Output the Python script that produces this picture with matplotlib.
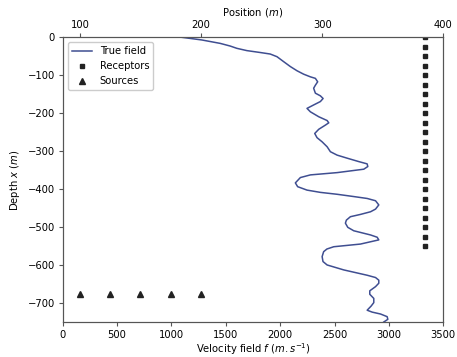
import matplotlib
matplotlib.use("Agg")
import matplotlib.pyplot as plt
import numpy as np

matplotlib.rc('font', size=7.2)
matplotlib.rc('xtick', labelsize=7.2)
matplotlib.rc('ytick', labelsize=7.2)

# true velocity profile
velocity = [1096, 1280, 1449, 1541, 1602, 1694, 1817, 1909, 1971, 2032, 2094, 2155,
            2216, 2278, 2324, 2345, 2324, 2308, 2324, 2370, 2395, 2370, 2308, 2247,
            2278, 2355, 2432, 2447, 2416, 2355, 2318, 2339, 2386, 2432, 2462, 2524,
            2616, 2723, 2800, 2806, 2769, 2524, 2278, 2186, 2140, 2161, 2247, 2370,
            2524, 2677, 2800, 2877, 2907, 2877, 2831, 2738, 2646, 2609, 2600, 2622,
            2677, 2831, 2892, 2907, 2738, 2493, 2430, 2400, 2386, 2394, 2432, 2585,
            2800, 2877, 2907, 2907, 2877, 2824, 2824, 2861, 2861, 2837, 2800, 2846,
            2923, 2984, 2990, 2953]
depth = [0, -7, -16, -23, -29, -35, -40, -44, -51, -64, -77, -88,
         -97, -104, -108, -117, -126, -134, -147, -154, -161, -169, -178, -187,
         -196, -209, -219, -225, -231, -242, -253, -264, -275, -288, -301, -310,
         -318, -327, -333, -340, -347, -356, -362, -369, -383, -393, -402, -408,
         -413, -419, -424, -430, -441, -452, -459, -466, -472, -481, -489, -500,
         -509, -520, -526, -533, -544, -551, -557, -564, -577, -590, -599, -612,
         -626, -632, -639, -647, -656, -667, -676, -687, -698, -707, -718, -723,
         -728, -735, -742, -749]

rec_pos = [385] * 23
rec_depth = [0, -25, -50, -75, -100, -125, -150, -175, -200, -225, -250, -275,
             -300, -325, -350, -375, -400, -425, -450, -475, -500, -525, -550]
src_pos = [100, 125, 150, 175, 200]
src_depth = [-675, -675, -675, -675, -675]

fig = plt.figure(figsize=(4.57, 3.57), dpi=100)
ax = fig.add_axes([0.137, 0.097, 0.833, 0.7985])
ax2 = ax.twiny()

l1, = ax.plot(velocity, depth, color="#3f4e91", lw=1.1, label="True field")
l2, = ax2.plot(rec_pos, rec_depth, 's', color="#222222", ms=2.8, label="Receptors")
l3, = ax2.plot(src_pos, src_depth, '^', color="#222222", ms=4, label="Sources")

ax.set_xlim(0, 3500)
ax.set_ylim(-750, 0)
ax2.set_xlim(85.7, 400)
ax2.set_xticks([100, 200, 300, 400])

ax.set_xlabel(r"Velocity field $f$ $(m.s^{-1})$", labelpad=1)
ax.set_ylabel(r"Depth $x$ $(m)$")
ax2.set_xlabel(r"Position $(m)$", labelpad=3)

for a in (ax, ax2):
    for s in a.spines.values():
        s.set_color("#555555")
    a.tick_params(color="#555555", length=3, pad=2.5)

ax.legend(handles=[l1, l2, l3], loc="upper left", framealpha=1)

plt.savefig("out.png", dpi=100)
